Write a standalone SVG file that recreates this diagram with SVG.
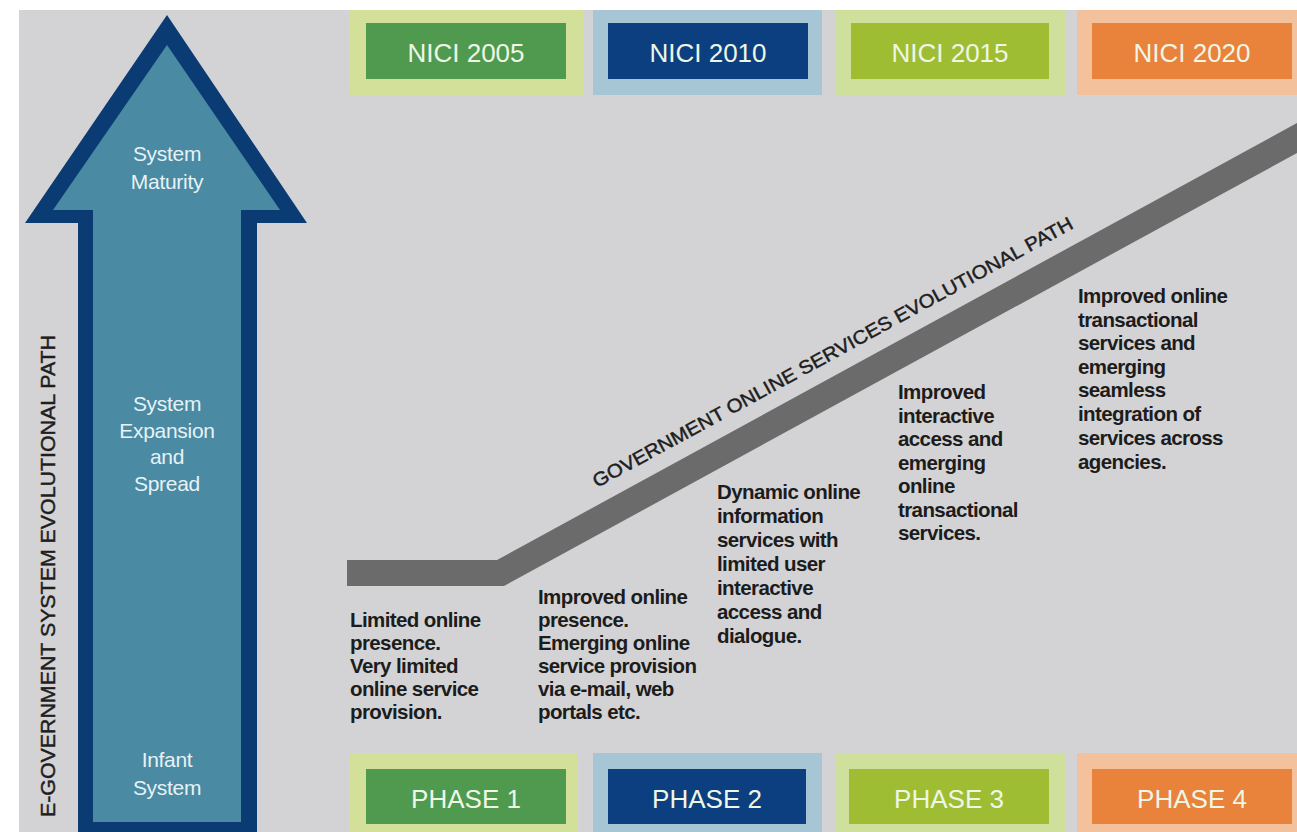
<svg xmlns="http://www.w3.org/2000/svg" width="1297" height="832" viewBox="0 0 1297 832">
<style>
.bg{fill:#d3d3d5}
.lbl{font-family:"Liberation Sans",Arial,sans-serif;font-size:26px;fill:#eef6e6;text-anchor:middle}
.arr{font-family:"Liberation Sans",Arial,sans-serif;font-size:21px;fill:#e6f2f6;text-anchor:middle;letter-spacing:-0.3px}
.desc{font-family:"Liberation Sans",Arial,sans-serif;font-size:20.5px;font-weight:bold;fill:#1c1c1c;letter-spacing:-0.6px}
.side{font-family:"Liberation Sans",Arial,sans-serif;font-size:21px;fill:#1e1e1e;stroke:#1e1e1e;stroke-width:0.45}
</style>
<rect width="1297" height="832" fill="#ffffff"/>
<rect class="bg" x="19" y="10" width="1278" height="822"/>

<g id="arrow">
<polygon points="167,15 307,223 257,223 257,832 78,832 78,223 25,223" fill="#0b3b73"/>
<polygon points="167,45 280,210 241,210 241,822 93,822 93,210 53,210" fill="#4a8aa3"/>
<text class="arr" x="167" y="161">System</text>
<text class="arr" x="167" y="189">Maturity</text>
<text class="arr" x="167" y="411">System</text>
<text class="arr" x="167" y="438">Expansion</text>
<text class="arr" x="167" y="464">and</text>
<text class="arr" x="167" y="491">Spread</text>
<text class="arr" x="167" y="767">Infant</text>
<text class="arr" x="167" y="795">System</text>
</g>

<g id="side-label">
<text class="side" transform="translate(55,817) rotate(-90)" textLength="482" lengthAdjust="spacingAndGlyphs">E-GOVERNMENT SYSTEM EVOLUTIONAL PATH</text>
</g>

<g id="nici2005"><rect x="350" y="10" width="233" height="85" fill="#d3e09a"/><rect x="366" y="23" width="200" height="56" fill="#4f9a4f"/><text class="lbl" x="466" y="62">NICI 2005</text></g>
<g id="nici2010"><rect x="593" y="10" width="229" height="85" fill="#a6c6d6"/><rect x="608" y="23" width="200" height="56" fill="#0c3f80"/><text class="lbl" x="708" y="62">NICI 2010</text></g>
<g id="nici2015"><rect x="835" y="10" width="230" height="85" fill="#cfe09c"/><rect x="851" y="23" width="198" height="56" fill="#9ebd33"/><text class="lbl" x="950" y="62">NICI 2015</text></g>
<g id="nici2020"><rect x="1077" y="10" width="220" height="85" fill="#f3c29c"/><rect x="1092" y="23" width="200" height="56" fill="#e9823a"/><text class="lbl" x="1192" y="62">NICI 2020</text></g>

<g id="phase1"><rect x="350" y="753" width="228" height="79" fill="#d3e09a"/><rect x="366" y="769" width="200" height="55" fill="#4f9a4f"/><text class="lbl" x="466" y="808">PHASE 1</text></g>
<g id="phase2"><rect x="593" y="753" width="229" height="79" fill="#a6c6d6"/><rect x="608" y="769" width="198" height="55" fill="#0c3f80"/><text class="lbl" x="707" y="808">PHASE 2</text></g>
<g id="phase3"><rect x="835" y="753" width="230" height="79" fill="#cfe09c"/><rect x="849" y="769" width="200" height="55" fill="#9ebd33"/><text class="lbl" x="949" y="808">PHASE 3</text></g>
<g id="phase4"><rect x="1077" y="753" width="220" height="79" fill="#f3c29c"/><rect x="1092" y="769" width="200" height="55" fill="#e9823a"/><text class="lbl" x="1192" y="808">PHASE 4</text></g>

<g id="connectors">
<polygon points="347,560 497,560 1297,123 1297,153 504,586 347,586" fill="#6b6b6b"/>
<text class="side" style="font-size:19px" transform="translate(597,488) rotate(-28.6)" textLength="544" lengthAdjust="spacingAndGlyphs">GOVERNMENT ONLINE SERVICES EVOLUTIONAL PATH</text>
</g>

<g id="desc1">
<text class="desc" x="350" y="627">Limited online</text>
<text class="desc" x="350" y="650">presence.</text>
<text class="desc" x="350" y="673">Very limited</text>
<text class="desc" x="350" y="696">online service</text>
<text class="desc" x="350" y="719">provision.</text>
</g>
<g id="desc2">
<text class="desc" x="538" y="604">Improved online</text>
<text class="desc" x="538" y="627">presence.</text>
<text class="desc" x="538" y="650">Emerging online</text>
<text class="desc" x="538" y="673">service provision</text>
<text class="desc" x="538" y="696">via e-mail, web</text>
<text class="desc" x="538" y="719">portals etc.</text>
</g>
<g id="desc3">
<text class="desc" x="717" y="499">Dynamic online</text>
<text class="desc" x="717" y="523">information</text>
<text class="desc" x="717" y="547">services with</text>
<text class="desc" x="717" y="571">limited user</text>
<text class="desc" x="717" y="595">interactive</text>
<text class="desc" x="717" y="619">access and</text>
<text class="desc" x="717" y="643">dialogue.</text>
</g>
<g id="desc4">
<text class="desc" x="898" y="399">Improved</text>
<text class="desc" x="898" y="423">interactive</text>
<text class="desc" x="898" y="446">access and</text>
<text class="desc" x="898" y="470">emerging</text>
<text class="desc" x="898" y="493">online</text>
<text class="desc" x="898" y="517">transactional</text>
<text class="desc" x="898" y="540">services.</text>
</g>
<g id="desc5">
<text class="desc" x="1078" y="303">Improved online</text>
<text class="desc" x="1078" y="327">transactional</text>
<text class="desc" x="1078" y="350">services and</text>
<text class="desc" x="1078" y="374">emerging</text>
<text class="desc" x="1078" y="397">seamless</text>
<text class="desc" x="1078" y="421">integration of</text>
<text class="desc" x="1078" y="445">services across</text>
<text class="desc" x="1078" y="469">agencies.</text>
</g>
</svg>
